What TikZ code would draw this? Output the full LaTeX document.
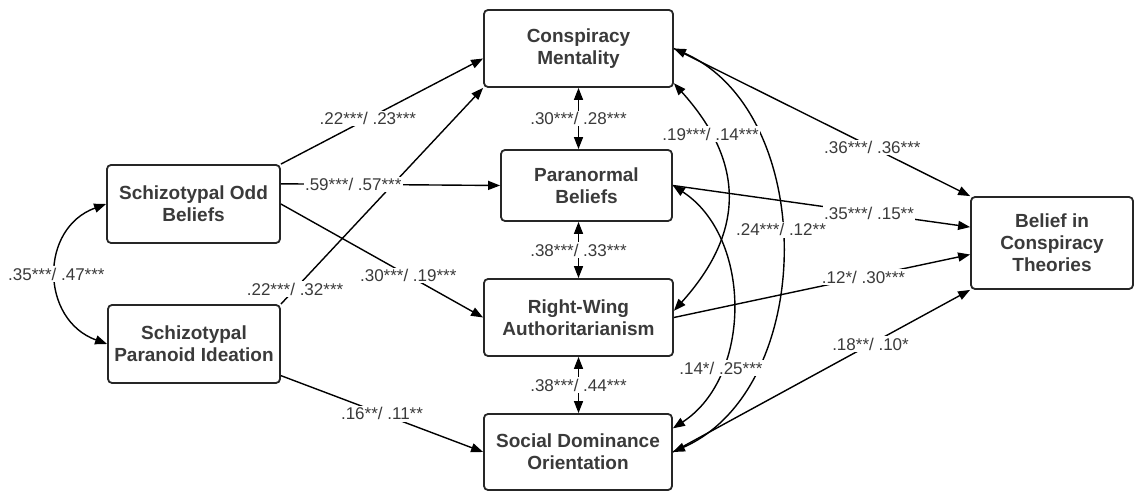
\documentclass[tikz,border=0pt]{standalone}
\usepackage{fontspec}
\setmainfont{Liberation Sans}
\usepackage{xcolor}
\usepackage{tikz}
\usetikzlibrary{arrows.meta}

\definecolor{txtgray}{RGB}{58,58,58}

\tikzset{
	var/.style={draw=black!85, line width=1.8pt, rounded corners=4pt, align=center, inner sep=0pt,
		text=txtgray, font=\fontsize{19}{22}\selectfont\bfseries},
	regr/.style={line width=1.4pt, -{Triangle[length=12pt,width=9pt]}},
	covar/.style={line width=1.4pt, {Triangle[length=12pt,width=9pt]}-{Triangle[length=12pt,width=9pt]}},
	coef/.style={fill=white, inner sep=1.5pt, text=txtgray, font=\fontsize{17}{17}\selectfont}
}

\begin{document}
\begin{tikzpicture}[x=1pt,y=1pt]
	\useasboundingbox (0,0) rectangle (1134,492);
	\node[var, minimum width=173pt, minimum height=78pt] (SOB) at (193.5,288)   {Schizotypal Odd\\Beliefs};
	\node[var, minimum width=172pt, minimum height=78pt] (SPI) at (194,148)     {Schizotypal\\Paranoid Ideation};
	\node[var, minimum width=189pt, minimum height=77pt] (CM)  at (578.5,443.5) {Conspiracy\\Mentality};
	\node[var, minimum width=171pt, minimum height=71pt] (PB)  at (586.5,306.5) {Paranormal\\Beliefs};
	\node[var, minimum width=189pt, minimum height=77pt] (RWA) at (578.5,174.5) {Right-Wing\\Authoritarianism};
	\node[var, minimum width=188pt, minimum height=76pt] (SDO) at (578,40)      {Social Dominance\\Orientation};
	\node[var, minimum width=162pt, minimum height=92pt] (BCT) at (1052,249)    {Belief in\\Conspiracy\\Theories};
	\draw[covar] (CM.east) to[out=-24,in=24] node[coef,pos=0.46] {.24***/ .12**} (SDO.east);
	\draw[regr]  (SPI.north east) -- node[coef,pos=0.07] {.22***/ .32***} (CM.south west);
	\draw[regr]  (SOB.north east) -- node[coef,pos=0.43] {.22***/ .23***} (CM.186);
	\draw[regr]  (SOB.13) -- node[coef,pos=0.33] {.59***/ .57***} (PB.west);
	\draw[regr]  (SOB.east) -- node[coef,pos=0.63] {.30***/ .19***} (RWA.west);
	\draw[regr]  (SPI.-20) -- node[coef] {.16**/ .11**} (SDO.west);
	\draw[covar] (SOB.west) to[out=200,in=160,looseness=1.3] node[coef] {.35***/ .47***} (SPI.west);
	\draw[covar] (CM.south) -- node[coef] {.30***/ .28***} (CM.south |- PB.north);
	\draw[covar] (PB.south -| CM.south) -- node[coef] {.38***/ .33***} (RWA.north);
	\draw[covar] (RWA.south) -- node[coef] {.38***/ .44***} (SDO.north -| RWA.south);
	\draw[covar] (CM.-20) to[out=-48,in=48,looseness=1.2] node[coef,pos=0.22] {.19***/ .14***} (RWA.4);
	\draw[covar] (PB.east) to[out=-33,in=33] node[coef,pos=0.72] {.14*/ .25***} (SDO.14);
	\draw[regr]  (CM.east) -- node[coef,pos=0.67] {.36***/ .36***} (BCT.north west);
	\draw[regr]  (PB.east) -- node[coef,pos=0.66] {.35***/ .15**} (BCT.169);
	\draw[regr]  (RWA.east) -- node[coef,pos=0.64] {.12*/ .30***} (BCT.188);
	\draw[regr]  (SDO.east) -- node[coef,pos=0.665] {.18**/ .10*} (BCT.south west);
\end{tikzpicture}
\end{document}
